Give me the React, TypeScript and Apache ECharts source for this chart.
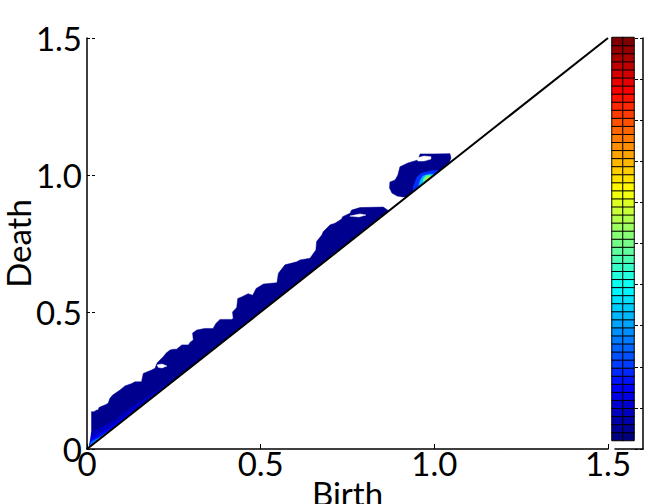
import React, { useEffect, useRef } from "react";
import * as echarts from "echarts";

type Pt = [number, number];

const xTicks = ["0", "0.5", "1.0", "1.5"];
const yTicks = ["0", "0.5", "1.0", "1.5"];
const diagonal: Pt[] = [[0, 0], [1.5, 1.5]];

// Outer support of the density (birth, death)
const mainRegion: Pt[] = [
  [0.006, 0.006], [0.013, 0.011], [0.013, 0.136], [0.02, 0.136], [0.028, 0.142], [0.032, 0.142],
  [0.035, 0.152], [0.052, 0.161], [0.061, 0.167], [0.066, 0.185], [0.074, 0.197], [0.095, 0.215],
  [0.109, 0.23], [0.129, 0.239], [0.138, 0.245], [0.157, 0.245], [0.162, 0.276], [0.186, 0.288],
  [0.196, 0.295], [0.202, 0.315], [0.21, 0.325], [0.219, 0.336], [0.228, 0.35], [0.239, 0.361],
  [0.249, 0.364], [0.258, 0.364], [0.273, 0.38], [0.292, 0.38], [0.297, 0.39], [0.306, 0.398],
  [0.304, 0.423], [0.316, 0.434], [0.339, 0.44], [0.363, 0.44], [0.371, 0.458], [0.383, 0.473],
  [0.416, 0.473], [0.421, 0.476], [0.419, 0.5], [0.431, 0.516], [0.434, 0.549], [0.445, 0.555],
  [0.464, 0.567], [0.477, 0.561], [0.487, 0.586], [0.508, 0.602], [0.547, 0.607], [0.551, 0.641],
  [0.57, 0.672], [0.604, 0.683], [0.613, 0.69], [0.642, 0.696], [0.652, 0.714], [0.659, 0.726],
  [0.661, 0.757], [0.676, 0.781], [0.68, 0.793], [0.7, 0.818], [0.714, 0.824], [0.733, 0.839],
  [0.736, 0.848], [0.757, 0.86], [0.762, 0.872], [0.786, 0.881], [0.853, 0.883], [0.861, 0.876],
  [0.869, 0.869],
];
const island: Pt[] = [
  [0.872, 0.974], [0.871, 0.953], [0.878, 0.934], [0.893, 0.923], [0.91, 0.92], [0.921, 0.921],
  [1.042, 1.042], [1.048, 1.062], [1.045, 1.078], [0.996, 1.077], [0.959, 1.077], [0.953, 1.055],
  [0.924, 1.044], [0.901, 1.03], [0.895, 1.0], [0.887, 0.982],
];

// Higher-density contours near the origin
const originA: Pt[] = [[0.006, 0.006], [0.013, 0.062], [0.037, 0.077], [0.081, 0.106], [0.124, 0.15], [0.181, 0.197], [0.268, 0.268]];
const originB: Pt[] = [[0.006, 0.006], [0.013, 0.04], [0.037, 0.055], [0.081, 0.091], [0.124, 0.131], [0.153, 0.153]];
const originC: Pt[] = [[0.006, 0.006], [0.013, 0.027], [0.037, 0.044], [0.066, 0.069], [0.089, 0.089]];
const originD: Pt[] = [[0.008, 0.008], [0.014, 0.015], [0.029, 0.033], [0.046, 0.046]];

// Higher-density contours in the upper cluster
const clusterA: Pt[] = [[0.939, 0.939], [0.939, 0.956], [0.95, 0.993], [0.964, 1.007], [0.993, 1.016], [1.016, 1.016]];
const clusterB: Pt[] = [[0.954, 0.954], [0.959, 0.978], [0.967, 0.996], [0.988, 1.004], [1.002, 1.002]];
const clusterC: Pt[] = [[0.967, 0.967], [0.969, 0.985], [0.976, 0.998], [0.99, 0.998], [0.993, 0.993]];
const clusterD: Pt[] = [[0.976, 0.976], [0.979, 0.989], [0.988, 0.993], [0.989, 0.989]];

// Empty cells inside the support
const gapA: Pt[] = [[0.202, 0.307], [0.216, 0.31], [0.23, 0.303], [0.216, 0.296], [0.205, 0.298]];
const gapB: Pt[] = [[0.757, 0.85], [0.786, 0.858], [0.803, 0.854], [0.783, 0.847]];
const gapC: Pt[] = [[0.95, 1.062], [0.97, 1.069], [0.99, 1.067], [0.99, 1.058], [0.97, 1.051], [0.953, 1.051]];

const colorLevels = 50;
const barColumns = ["a", "b"];
const barLevels = Array.from({ length: colorLevels }, (_, i) => String(i));
const barCells = barLevels.flatMap((_, row) => barColumns.map((_, col) => [col, row, row]));

const NAVY = "#00008f";
const JET = ["#00007f", "#0000ff", "#007fff", "#00ffff", "#7fff7f", "#ffff00", "#ff7f00", "#ff0000", "#7f0000"];
const FONT = "Lato";

const layer = (pts: Pt[], color: string) => ({
  type: "custom",
  xAxisIndex: 0,
  yAxisIndex: 0,
  silent: true,
  data: pts,
  encode: { x: 0, y: 1 },
  renderItem: (params: any, api: any) =>
    params.dataIndex === 0
      ? { type: "polygon", shape: { points: pts.map((p) => api.coord(p)) }, style: { fill: color, stroke: color, lineWidth: 0.5 } }
      : null,
});

const axisLine = { show: true, onZero: false, lineStyle: { color: "#000", width: 1.5 } };

export default function App() {
  const ref = useRef<HTMLDivElement>(null);
  useEffect(() => {
    document.body.style.margin = "0";
    const chart = echarts.init(ref.current!, null, { renderer: "svg" });
    chart.setOption({
      animation: false,
      backgroundColor: "#fff",
      textStyle: { fontFamily: FONT },
      grid: [
        { left: 87, top: 38, width: 521, height: 411, outerBoundsMode: "none" },
        { left: 612, top: 37.5, width: 22, height: 403, outerBoundsMode: "none" },
        { left: 615, top: 38, width: 28, height: 411, outerBoundsMode: "none" },
      ],
      xAxis: [
        {
          gridIndex: 0, type: "value", min: 0, max: 1.5, interval: 0.5,
          name: "Birth", nameLocation: "middle", nameGap: 27, nameMoveOverlap: false,
          nameTextStyle: { fontFamily: FONT, fontSize: 33, color: "#000" },
          axisLine,
          axisTick: { show: true, inside: true, length: 5, lineStyle: { color: "#000", width: 1 } },
          axisLabel: {
            fontFamily: FONT, fontSize: 33, color: "#000", margin: -3,
            formatter: (v: number) => xTicks[Math.round(v / 0.5)],
          },
          splitLine: { show: false },
        },
        { gridIndex: 1, type: "category", data: barColumns, show: false },
        {
          gridIndex: 2, type: "value", min: 0, max: 1,
          axisLine, axisTick: { show: false }, axisLabel: { show: false }, splitLine: { show: false },
        },
      ],
      yAxis: [
        {
          gridIndex: 0, type: "value", min: 0, max: 1.5, interval: 0.5,
          name: "Death", nameLocation: "middle", nameGap: 53, nameRotate: 90, nameMoveOverlap: false,
          nameTextStyle: { fontFamily: FONT, fontSize: 33, color: "#000" },
          axisLine,
          axisTick: { show: true, inside: true, length: 8, lineStyle: { color: "#000", width: 1, type: [3, 2] } },
          axisLabel: {
            fontFamily: FONT, fontSize: 33, color: "#000", margin: 5,
            formatter: (v: number) => yTicks[Math.round(v / 0.5)],
          },
          splitLine: { show: false },
        },
        { gridIndex: 1, type: "category", data: barLevels, show: false },
        {
          gridIndex: 2, type: "value", min: 0, max: 10, interval: 1, position: "right",
          axisLine,
          axisTick: { show: true, inside: true, length: 8, lineStyle: { color: "#000", width: 1, type: [3, 2] } },
          axisLabel: { show: false }, splitLine: { show: false },
        },
      ],
      visualMap: {
        show: false, type: "continuous", seriesIndex: 0, dimension: 2,
        min: 0, max: colorLevels - 1, inRange: { color: JET },
      },
      series: [
        {
          type: "heatmap", xAxisIndex: 1, yAxisIndex: 1, data: barCells, silent: true,
          itemStyle: { borderColor: "#000", borderWidth: 1 },
        },
        layer(mainRegion, NAVY),
        layer(island, NAVY),
        layer(gapA, "#fff"),
        layer(gapB, "#fff"),
        layer(gapC, "#fff"),
        layer(originA, "#0000bf"),
        layer(originB, "#0000ff"),
        layer(originC, "#0070ff"),
        layer(originD, "#20c0ff"),
        layer(clusterA, "#0030ff"),
        layer(clusterB, "#00c0ff"),
        layer(clusterC, "#60ff90"),
        layer(clusterD, "#ffd800"),
        {
          type: "line", xAxisIndex: 0, yAxisIndex: 0, data: diagonal, showSymbol: false, silent: true, clip: false, z: 5,
          lineStyle: { color: "#000", width: 2 },
        },
      ],
    });
    return () => chart.dispose();
  }, []);
  return <div ref={ref} style={{ width: 672, height: 504 }} />;
}
